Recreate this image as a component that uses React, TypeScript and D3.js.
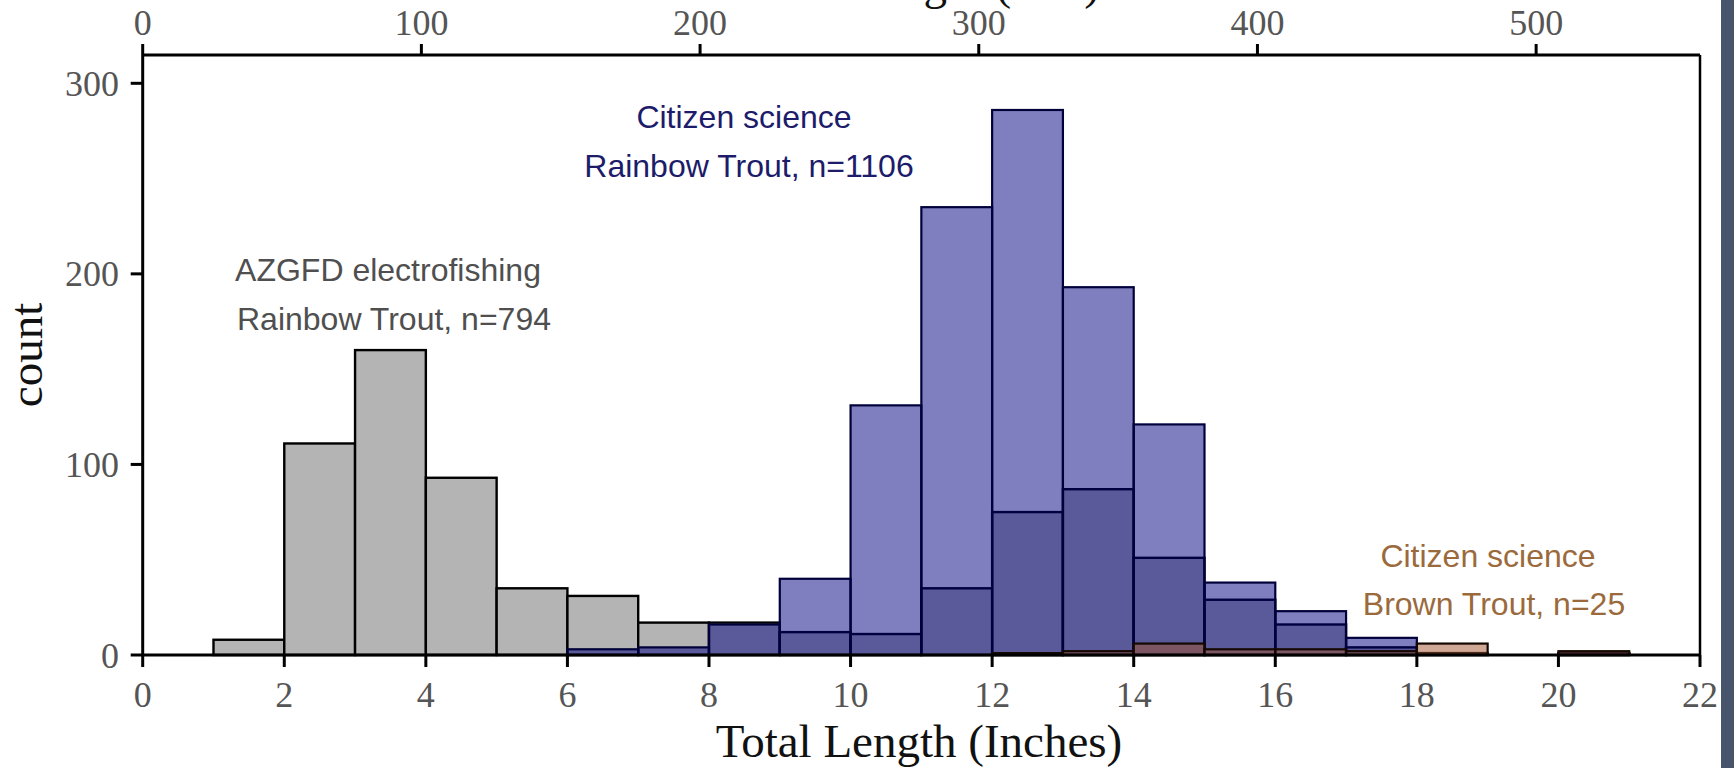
import React from "react";
import * as d3 from "d3";

// Histogram bins, 1 inch wide, starting at these lengths (inches)
const binStarts = [1, 2, 3, 4, 5, 6, 7, 8, 9, 10, 11, 12, 13, 14, 15, 16, 17, 18, 19, 20];
const azgfdCounts = [8, 111, 160, 93, 35, 31, 17, 17, 12, 11, 35, 75, 87, 51, 29, 16, 4, 1, 0, 1];
const citizenRainbowCounts = [0, 0, 0, 0, 0, 3, 4, 16, 40, 131, 235, 286, 193, 121, 38, 23, 9, 0, 0, 1];
const citizenBrownCounts = [0, 0, 0, 0, 0, 0, 0, 0, 0, 0, 0, 1, 2, 6, 3, 3, 2, 6, 0, 2];

const inchTicks = [0, 2, 4, 6, 8, 10, 12, 14, 16, 18, 20, 22];
const mmTicks = [0, 100, 200, 300, 400, 500];
const countTicks = [0, 100, 200, 300];

const W = 1734;
const H = 768;
const left = 142.7;
const right = 1700;
const top = 55;
const bottom = 655;

export default function App() {
  const x = d3.scaleLinear().domain([0, 22]).range([left, right]);
  const xmm = d3.scaleLinear().domain([0, 22 * 25.4]).range([left, right]);
  const y = d3.scaleLinear().domain([0, 300]).range([bottom, 83.3]);

  const series = [
    { counts: azgfdCounts, fill: "#b4b4b4", opacity: 1, stroke: "#000", sw: 2.4 },
    { counts: citizenRainbowCounts, fill: "#000080", opacity: 0.5, stroke: "#00003a", sw: 2.2 },
    { counts: citizenBrownCounts, fill: "#a0522d", opacity: 0.5, stroke: "#140800", sw: 2.2 },
  ];

  const tickFont = { fontFamily: "Liberation Serif", fontSize: 36, fill: "#555" } as const;
  const titleFont = { fontFamily: "Liberation Serif", fontSize: 47, fill: "#111" } as const;
  const annFont = { fontFamily: "Liberation Sans", fontSize: 32 } as const;

  return (
    <svg width={W} height={H} style={{ position: "absolute", left: 0, top: 0, background: "#fff" }}>
      <rect x={0} y={0} width={W} height={H} fill="#fff" />
      {/* top axis title (cut off at the edge) */}
      <text x={(left + right) / 2} y={-1} textAnchor="middle" {...titleFont}>Total Length (mm)</text>

      {/* bars */}
      {series.map((s, si) => (
        <g key={si}>
          {binStarts.map((b, i) =>
            s.counts[i] > 0 ? (
              <rect
                key={i}
                x={x(b)}
                y={y(s.counts[i])}
                width={x(b + 1) - x(b)}
                height={y(0) - y(s.counts[i])}
                fill={s.fill}
                fillOpacity={s.opacity}
                stroke={s.stroke}
                strokeWidth={s.sw}
              />
            ) : null
          )}
        </g>
      ))}

      {/* frame */}
      <line x1={left} x2={right} y1={top} y2={top} stroke="#000" strokeWidth={3} />
      <line x1={right} x2={right} y1={top} y2={bottom} stroke="#000" strokeWidth={2.5} />
      <line x1={left} x2={left} y1={top} y2={bottom} stroke="#000" strokeWidth={3} />
      <line x1={left} x2={right} y1={bottom} y2={bottom} stroke="#000" strokeWidth={3} />

      {/* bottom axis */}
      {inchTicks.map((t) => (
        <g key={"b" + t}>
          <line x1={x(t)} x2={x(t)} y1={bottom} y2={bottom + 12} stroke="#000" strokeWidth={3} />
          <text x={x(t)} y={707} textAnchor="middle" {...tickFont}>{t}</text>
        </g>
      ))}
      {/* top axis */}
      {mmTicks.map((t) => (
        <g key={"t" + t}>
          <line x1={xmm(t)} x2={xmm(t)} y1={top} y2={top - 11} stroke="#000" strokeWidth={3} />
          <text x={xmm(t)} y={35} textAnchor="middle" {...tickFont}>{t}</text>
        </g>
      ))}
      {/* left axis */}
      {countTicks.map((t) => (
        <g key={"l" + t}>
          <line x1={left - 12} x2={left} y1={y(t)} y2={y(t)} stroke="#000" strokeWidth={3} />
          <text x={119} y={y(t)} dy="0.35em" textAnchor="end" {...tickFont}>{t}</text>
        </g>
      ))}

      {/* axis titles */}
      <text x={919} y={757} textAnchor="middle" {...titleFont}>Total Length (Inches)</text>
      <text transform={`translate(42,${(top + bottom) / 2}) rotate(-90)`} textAnchor="middle" {...titleFont}>count</text>

      {/* annotations */}
      <g {...annFont} fill="#4f4f4f" textAnchor="middle">
        <text x={388} y={281}>AZGFD electrofishing</text>
        <text x={394} y={330}>Rainbow Trout, n=794</text>
      </g>
      <g {...annFont} fill="#1c1c6a" textAnchor="middle">
        <text x={744} y={128}>Citizen science</text>
        <text x={749} y={177}>Rainbow Trout, n=1106</text>
      </g>
      <g {...annFont} fill="#9b6a3c" textAnchor="middle">
        <text x={1488} y={567}>Citizen science</text>
        <text x={1494} y={615}>Brown Trout, n=25</text>
      </g>

      {/* right edge dark strip */}
      <rect x={1721} y={0} width={13} height={H} fill="#48536c" />
    </svg>
  );
}
